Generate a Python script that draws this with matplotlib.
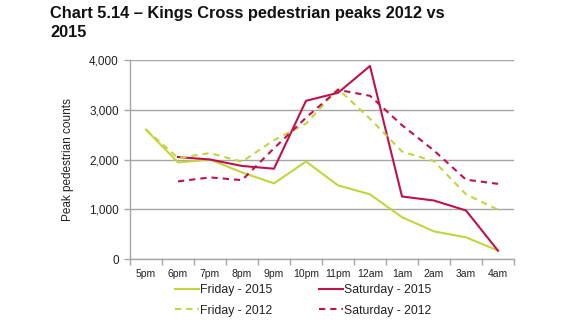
import numpy as np
import matplotlib
matplotlib.use("Agg")
import matplotlib.pyplot as plt
from matplotlib.ticker import FuncFormatter

plt.rcParams['font.family'] = ['Liberation Sans', 'DejaVu Sans']

hours = ["5pm", "6pm", "7pm", "8pm", "9pm", "10pm", "11pm", "12am", "1am", "2am", "3am", "4am"]
friday_2015 = [2600, 1940, 2000, 1740, 1520, 1960, 1480, 1300, 840, 555, 435, 170]
saturday_2015 = [np.nan, 2050, 2000, 1870, 1815, 3180, 3340, 3880, 1257, 1175, 975, 167]
friday_2012 = [2600, 2030, 2130, 1955, 2390, 2720, 3420, 2820, 2160, 1965, 1300, 990]
saturday_2012 = [np.nan, 1560, 1640, 1585, 2225, 2840, 3400, 3280, 2690, 2180, 1595, 1510]
yticks = [0, 1000, 2000, 3000, 4000]

green = "#C3D53B"
red = "#BF1150"
gray = "#A6A6A6"

fig = plt.figure(figsize=(5.84, 3.29), dpi=100)
ax = fig.add_axes([130/584, 1-259/329, 384/584, 199/329])

x = np.arange(len(hours))
dash = (0, (3, 2.4))
ax.plot(x, friday_2015, color=green, lw=1.5, label="Friday - 2015")
ax.plot(x, saturday_2015, color=red, lw=1.5, label="Saturday - 2015")
ax.plot(x, friday_2012, color=green, lw=1.5, ls=dash, label="Friday - 2012")
ax.plot(x, saturday_2012, color=red, lw=1.5, ls=dash, label="Saturday - 2012")

ax.set_xlim(-0.5, len(hours) - 0.5)
ax.set_ylim(0, 4000)
ax.set_yticks(yticks)
ax.yaxis.set_major_formatter(FuncFormatter(lambda v, p: f"{int(v):,}"))
ax.set_xticks(x)
ax.set_xticklabels(hours)
ax.set_xticks(np.arange(-0.5, len(hours)), minor=True)
ax.tick_params(axis='x', which='major', length=0, pad=7, labelsize=7.5, colors='#222222')
ax.tick_params(axis='x', which='minor', length=4, color=gray, width=1)
ax.tick_params(axis='y', length=4, color=gray, width=1, labelsize=8.5, pad=4)
ax.tick_params(axis='y', colors=gray, labelcolor='#222222')

ax.grid(axis='y', color=gray, lw=1)
ax.set_axisbelow(True)
for s in ['top', 'right']:
    ax.spines[s].set_visible(False)
for s in ['left', 'bottom']:
    ax.spines[s].set_color(gray)
    ax.spines[s].set_linewidth(1)

ax.set_ylabel("Peak pedestrian counts", fontsize=8.5, color='#222222', labelpad=11)

fig.text(50/584, 1-6/329, "Chart 5.14 \u2013 Kings Cross pedestrian peaks 2012 vs\n2015",
         ha='left', va='top', fontsize=11.8, fontweight='bold', color='#111111', linespacing=1.32)

handles, labels = ax.get_legend_handles_labels()
order = [0, 2, 1, 3]
leg = fig.legend([handles[i] for i in order], [labels[i] for i in order],
                 loc='upper left', bbox_to_anchor=(175/584, 1-284/329), ncol=2,
                 frameon=False, fontsize=8.8, handlelength=1.95, handletextpad=0.1,
                 columnspacing=3.8, labelspacing=0.7, borderpad=0, borderaxespad=0)
for t in leg.get_texts():
    t.set_color('#222222')

fig.savefig("out.png", dpi=100)
